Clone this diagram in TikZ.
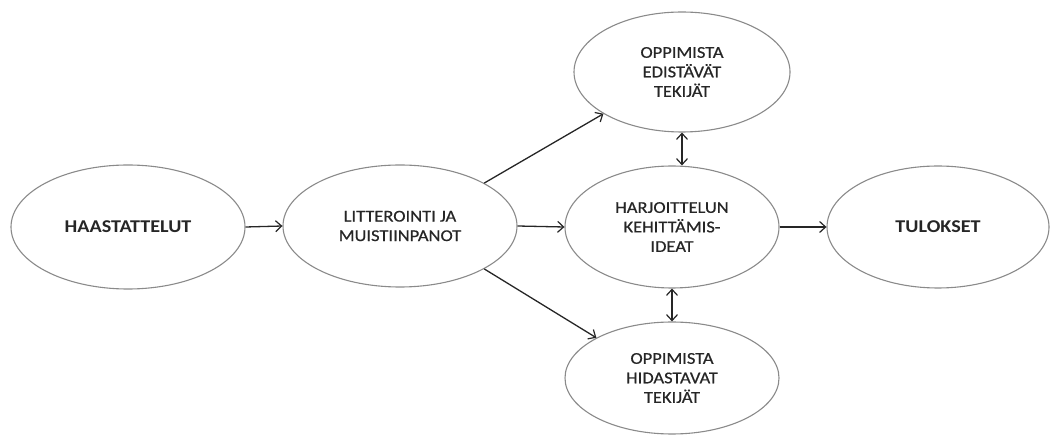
\documentclass[tikz,border=0pt]{standalone}
\usepackage{fontspec}
\setmainfont{Carlito}
\newfontfamily\widefont[FakeStretch=1.12,FakeBold=0.6]{Carlito}
\newfontfamily\widebold[FakeStretch=1.12]{Carlito Bold}
\usetikzlibrary{shapes.geometric,arrows.meta}
\definecolor{edgegray}{HTML}{8A8A8A}
\definecolor{inkdark}{HTML}{262626}
\tikzset{
  oval/.style={ellipse, draw=edgegray, line width=1.1pt, inner sep=0pt, align=center,
    text=inkdark, font=\widefont\fontsize{16.5}{19.5}\selectfont},
  boldoval/.style={oval, font=\widebold\fontsize{18}{20}\selectfont},
  flow/.style={draw=inkdark, line width=1.3pt, -{Straight Barb[length=6pt,width=11pt,line width=1.2pt]}},
  both/.style={draw=inkdark, line width=1.3pt, {Straight Barb[length=6pt,width=11pt,line width=1.2pt]}-{Straight Barb[length=6pt,width=11pt,line width=1.2pt]}}
}
\begin{document}
\begin{tikzpicture}[x=1pt,y=-1pt]
\useasboundingbox (0,0) rectangle (1050,435);
\node[boldoval, minimum width=234pt, minimum height=124pt] (haas) at (128,227) {HAASTATTELUT};
\node[oval, minimum width=234pt, minimum height=122pt] (litt) at (400,226) {LITTEROINTI JA\\MUISTIINPANOT};
\node[oval, minimum width=216pt, minimum height=120pt] (top) at (682,72) {OPPIMISTA\\EDISTÄVÄT\\TEKIJÄT};
\node[oval, minimum width=214pt, minimum height=122pt] (mid) at (672,227) {HARJOITTELUN\\KEHITTÄMIS-\\IDEAT};
\node[oval, minimum width=214pt, minimum height=112pt] (bot) at (672,378) {OPPIMISTA\\HIDASTAVAT\\TEKIJÄT};
\node[boldoval, minimum width=222pt, minimum height=122pt] (tul) at (938,227) {TULOKSET};
\draw[flow] (haas.east) -- (litt.west);
\draw[flow] (litt.east) -- (mid.west);
\draw[flow] (mid.east) -- (tul.west);
\draw[flow] (litt.27) -- (top.208);
\draw[flow] (litt.333) -- (bot.152);
\draw[both] (top.south) -- (top.south |- mid.north);
\draw[both] (mid.south) -- (bot.north);
\end{tikzpicture}
\end{document}
